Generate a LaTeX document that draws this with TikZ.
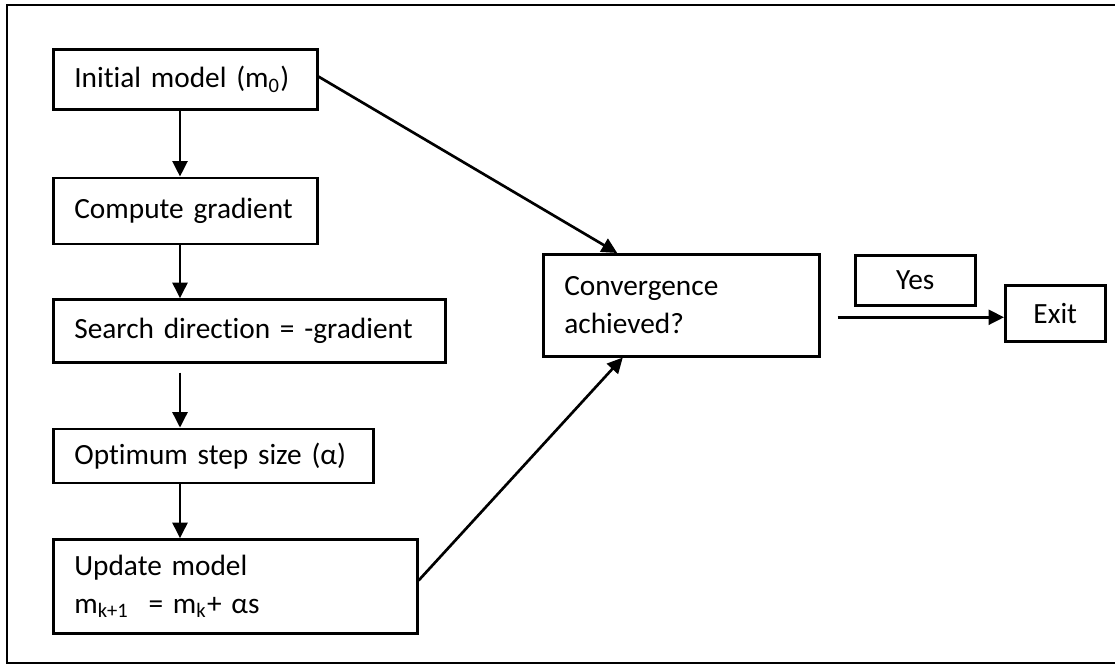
\documentclass[tikz,border=0pt]{standalone}
\usepackage{fontspec}
\setmainfont{Carlito}[Ligatures=CommonOff]
\usepackage{tikz}
\usetikzlibrary{arrows.meta,positioning,calc}
\tikzset{
    blk/.style={rectangle, draw, line width=0.95pt, text width=#1, align=left,
                inner xsep=7.9pt, inner ysep=2pt, font=\fontsize{11}{14.2}\selectfont},
    tag/.style={rectangle, draw, line width=0.95pt, align=center, inner sep=2pt,
                font=\fontsize{11}{14.2}\selectfont},
    arr/.style={-{Triangle[length=5.8pt,width=5.6pt]}, line width=1pt},
}

\begin{document}
\begin{tikzpicture}[x=0.375pt, y=-0.375pt]
    \useasboundingbox (0,0) rectangle (1115,664);
    % Outer frame
    \draw[line width=0.9pt] (7,5) rectangle (1130,663);

    % Left column
    \node[blk=83.2pt, minimum height=22.5pt, anchor=north west] at (52,48) (init) {Initial model (m\textsubscript{0})};
    \node[blk=83.2pt, minimum height=24.75pt, below=24.75pt of init.south west, anchor=north west] (grad) {Compute gradient};
    \node[blk=131.2pt, minimum height=23.6pt, below=19.9pt of grad.south west, anchor=north west] (srch) {Search direction = -gradient};
    \node[blk=104.2pt, minimum height=20.25pt, below=24pt of srch.south west, anchor=north west] (opt) {Optimum step size (α)};
    \node[blk=120.7pt, minimum height=35.25pt, below=20.25pt of opt.south west, anchor=north west] (upd) {Update model\\m\textsubscript{k+1}\ \ = m\textsubscript{k}+ αs};

    % Right side
    \node[blk=87.7pt, minimum height=38.25pt, anchor=north west] at (542,253) (conv) {Convergence\\achieved?};
    \node[tag, minimum width=45pt, minimum height=18.75pt, anchor=north west] at (854,254) (yes) {Yes};
    \node[tag, minimum width=37.5pt, minimum height=21pt, anchor=north west] at (1004,284) (exit) {Exit};

    % Main chain
    \draw[arr] (init.south -| 180,0) -- (grad.north -| 180,0);
    \draw[arr] (grad.south -| 180,0) -- (srch.north -| 180,0);
    \draw[arr] ([yshift=-3.4pt]srch.south -| 180,0) -- (opt.north -| 180,0);
    \draw[arr] (opt.south -| 180,0) -- (upd.north -| 180,0);

    % To the convergence check
    \draw[arr] ([yshift=1pt]init.east) -- ($(conv.north west)!0.27!(conv.north east)$);
    \draw[arr] ([yshift=2.2pt]upd.east) -- ($(conv.south west)!0.29!(conv.south east)$);
    \draw[arr] ([xshift=6.4pt,yshift=-1.5pt]conv.east |- exit.west) -- ([yshift=-1.5pt]exit.west);
\end{tikzpicture}
\end{document}
